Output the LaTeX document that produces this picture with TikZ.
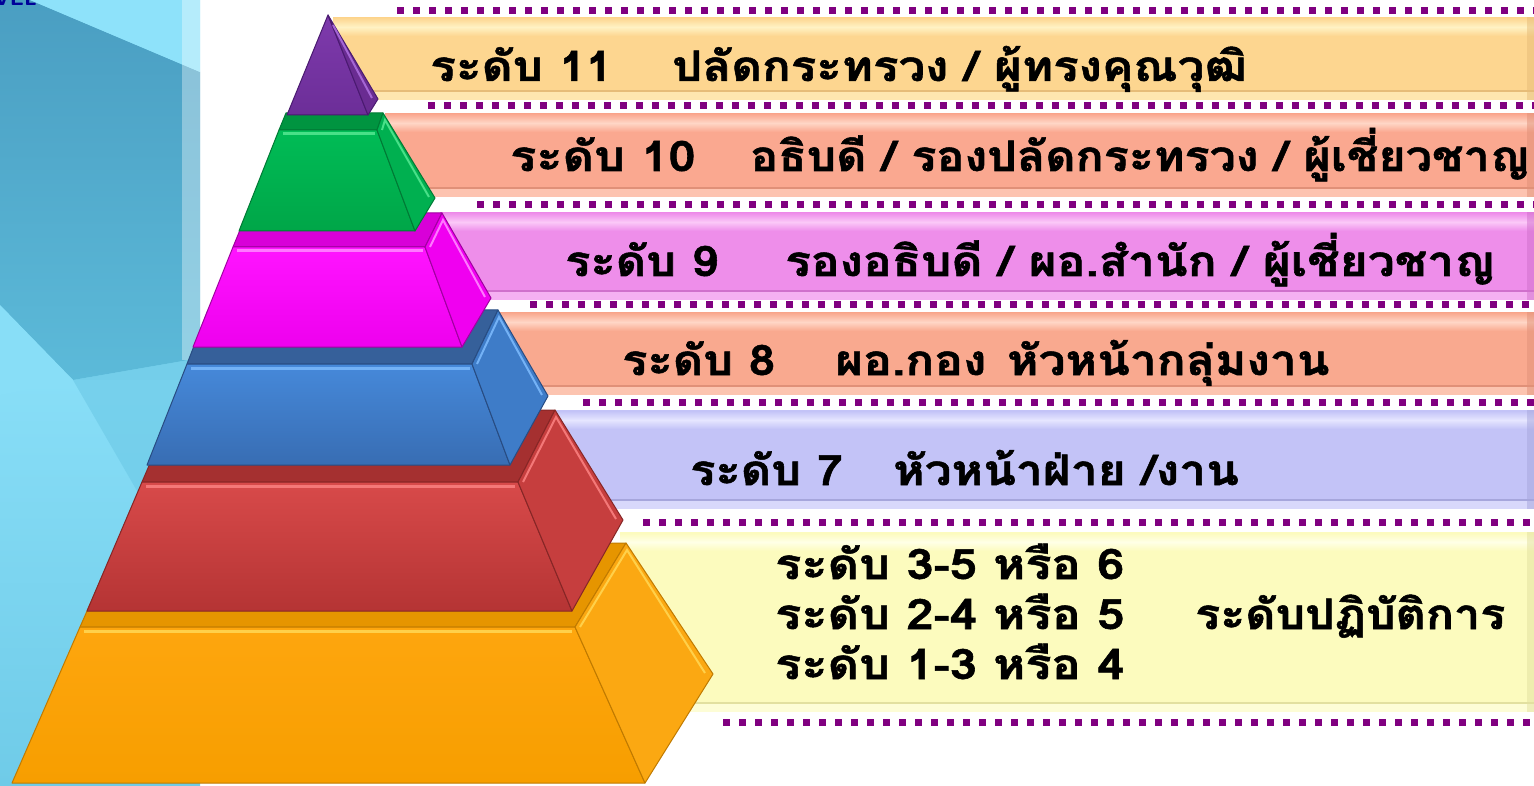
\documentclass[tikz,border=0pt]{standalone}
\usepackage{fontspec}
\usepackage{graphicx}
\newfontfamily\thaifont[Script=Thai,BoldFeatures={FakeBold=1.2}]{Loma}
\definecolor{bgLight}{HTML}{80D6F0}
\definecolor{bgTop}{HTML}{8EE2FA}
\definecolor{bgDarkT}{HTML}{4A9EC2}
\definecolor{bgDarkB}{HTML}{5CBAD9}
\definecolor{bgWedge}{HTML}{88DEF7}
\definecolor{bgMid}{HTML}{6FCBE8}
\definecolor{dotc}{HTML}{800080}
% bands
\definecolor{b1}{HTML}{FDD690}\definecolor{b1l}{HTML}{FFF2C4}\definecolor{b1d}{HTML}{E6BC78}
\definecolor{b2}{HTML}{FAA890}\definecolor{b2l}{HTML}{FFD6C6}\definecolor{b2d}{HTML}{E09078}
\definecolor{b3}{HTML}{EE8EEA}\definecolor{b3l}{HTML}{FBC8F8}\definecolor{b3d}{HTML}{D070CC}
\definecolor{b4}{HTML}{F9A98F}\definecolor{b4l}{HTML}{FFD6C6}\definecolor{b4d}{HTML}{E09078}
\definecolor{b5}{HTML}{C3C3F7}\definecolor{b5l}{HTML}{E6E6FF}\definecolor{b5d}{HTML}{A6A6DC}
\definecolor{b6}{HTML}{FCFBBE}\definecolor{b6l}{HTML}{FFFFE6}\definecolor{b6d}{HTML}{E2E0A0}
% tiers
\definecolor{oF}{HTML}{FEA60E}\definecolor{oF2}{HTML}{F79E00}\definecolor{oS}{HTML}{FBA812}\definecolor{oT}{HTML}{E69500}\definecolor{oD}{HTML}{C07A00}\definecolor{oH}{HTML}{FFD04A}
\definecolor{rF}{HTML}{D84A4A}\definecolor{rF2}{HTML}{B53434}\definecolor{rS}{HTML}{C63E3E}\definecolor{rT}{HTML}{A53030}\definecolor{rD}{HTML}{862626}\definecolor{rH}{HTML}{F47878}
\definecolor{uF}{HTML}{4689DA}\definecolor{uF2}{HTML}{386DB3}\definecolor{uS}{HTML}{3E7CC8}\definecolor{uT}{HTML}{36609A}\definecolor{uD}{HTML}{284C82}\definecolor{uH}{HTML}{74B2F6}
\definecolor{mF}{HTML}{FF14FF}\definecolor{mF2}{HTML}{EE00EE}\definecolor{mS}{HTML}{F000F0}\definecolor{mT}{HTML}{D800D8}\definecolor{mD}{HTML}{A000A0}\definecolor{mH}{HTML}{FF78FF}
\definecolor{gF}{HTML}{00BC56}\definecolor{gF2}{HTML}{00A648}\definecolor{gS}{HTML}{00B050}\definecolor{gT}{HTML}{009440}\definecolor{gD}{HTML}{007A35}\definecolor{gH}{HTML}{48E088}
\definecolor{pF}{HTML}{7E3AAC}\definecolor{pF2}{HTML}{6C2E98}\definecolor{pS}{HTML}{6A2C92}\definecolor{pD}{HTML}{4A1A70}\definecolor{pH}{HTML}{A466D4}
\newcommand{\mkband}[6]{%
  \fill[#4] (#1,#2) rectangle (1534,#3);
  \shade[top color=#4,bottom color=#4,middle color=#5] (#1,#2+1) rectangle (1534,#2+19);
  \fill[#5,opacity=.6] (#1,#3-8) rectangle (1534,#3);
  \draw[#6,line width=1.5pt] (#1,#3-9) -- (1534,#3-9);
  \fill[#6,opacity=.5] (1527,#2) rectangle (1534,#3);
}
\newcommand{\sx}[2][1.14]{\scalebox{#1}[1]{#2}}
\begin{document}
\begin{tikzpicture}[x=1pt,y=-1pt,
  dotrow/.style={draw=dotc,line width=7pt,dash pattern=on 7pt off 9pt},
  lv/.style={anchor=base west,inner sep=0pt,text=black,font=\thaifont\bfseries\fontsize{42}{46}\selectfont},
  face/.style={line width=1pt,line join=round}]
\useasboundingbox (0,0) rectangle (1534,786);
\fill[white] (0,0) rectangle (1534,786);
% ---- left background panel
\fill[bgLight] (0,0) rectangle (200,786);
\shade[top color=bgWedge,bottom color=bgMid] (0,380) rectangle (200,786);
\shade[top color=bgDarkT,bottom color=bgDarkB] (0,0) -- (30,0) -- (200,72) -- (200,358) -- (73,380) -- (0,305) -- cycle;
\fill[bgTop] (30,0) -- (200,0) -- (200,72) -- cycle;
\fill[bgWedge] (0,305) -- (73,380) -- (0,395) -- cycle;
\fill[bgMid,opacity=.7] (73,380) -- (200,358) -- (200,600) -- cycle;
\fill[white,opacity=.35] (182,0) rectangle (200,360);
\node[anchor=base east,inner sep=0pt,text=blue!60!black,font=\sffamily\bfseries\fontsize{22}{24}\selectfont] (lvl) at (37,6) {LEVEL};
% ---- bands
\mkband{333}{17}{100}{b1}{b1l}{b1d}
\mkband{385}{113}{197}{b2}{b2l}{b2d}
\mkband{440}{212}{300}{b3}{b3l}{b3d}
\mkband{495}{312}{395}{b4}{b4l}{b4d}
\mkband{553}{410}{509}{b5}{b5l}{b5d}
\mkband{620}{532}{712}{b6}{b6l}{b6d}
% ---- dotted separators
\draw[dotrow] (397,11) -- (1534,11);
\draw[dotrow] (428,106) -- (1534,106);
\draw[dotrow] (477,205) -- (1534,205);
\draw[dotrow] (530,305) -- (1534,305);
\draw[dotrow] (583,402) -- (1534,402);
\draw[dotrow] (643,522) -- (1534,522);
\draw[dotrow] (723,722) -- (1534,722);
% ---- pyramid: orange
\fill[face,oT,draw=oD] (117,543) -- (626,543) -- (575,627) -- (80,627) -- cycle;
\shade[top color=oF,bottom color=oF2] (80,627) -- (575,627) -- (645,783) -- (12,783) -- cycle;
\draw[face,oD] (80,627) -- (575,627) -- (645,783) -- (12,783) -- cycle;
\draw[oH,line width=3pt] (84,631) -- (572,631);
\fill[face,oS,draw=oD] (575,627) -- (626,543) -- (713,674) -- (645,783) -- cycle;
\draw[oH,line width=2pt] (580,627) -- (627,550) -- (705,673);
% red
\fill[face,rT,draw=rD] (173,410) -- (555,410) -- (518,482) -- (142,482) -- cycle;
\shade[top color=rF,bottom color=rF2] (142,482) -- (518,482) -- (572,611) -- (87,611) -- cycle;
\draw[face,rD] (142,482) -- (518,482) -- (572,611) -- (87,611) -- cycle;
\draw[rH,line width=3pt] (146,486) -- (515,486);
\fill[face,rS,draw=rD] (518,482) -- (555,410) -- (623,520) -- (572,611) -- cycle;
\draw[rH,line width=2pt] (523,482) -- (556,417) -- (616,519);
% blue
\fill[face,uT,draw=uD] (208,310) -- (498,310) -- (472,364) -- (187,364) -- cycle;
\shade[top color=uF,bottom color=uF2] (187,364) -- (472,364) -- (510,465) -- (147,465) -- cycle;
\draw[face,uD] (187,364) -- (472,364) -- (510,465) -- (147,465) -- cycle;
\draw[uH,line width=3pt] (191,368) -- (470,368);
\fill[face,uS,draw=uD] (472,364) -- (498,310) -- (548,396) -- (510,465) -- cycle;
\draw[uH,line width=2pt] (477,364) -- (499,317) -- (542,395);
% magenta
\fill[face,mT,draw=mD] (247,213) -- (442,213) -- (425,247) -- (233,247) -- cycle;
\shade[top color=mF,bottom color=mF2] (233,247) -- (425,247) -- (462,347) -- (193,347) -- cycle;
\draw[face,mD] (233,247) -- (425,247) -- (462,347) -- (193,347) -- cycle;
\draw[mH,line width=3pt] (237,251) -- (423,251);
\fill[face,mS,draw=mD] (425,247) -- (442,213) -- (491,298) -- (462,347) -- cycle;
\draw[mH,line width=2pt] (430,247) -- (443,220) -- (485,297);
% green
\fill[face,gT,draw=gD] (286,113) -- (383,113) -- (377,130) -- (279,130) -- cycle;
\shade[top color=gF,bottom color=gF2] (279,130) -- (377,130) -- (415,231) -- (239,231) -- cycle;
\draw[face,gD] (279,130) -- (377,130) -- (415,231) -- (239,231) -- cycle;
\draw[gH,line width=3pt] (283,134) -- (375,134);
\fill[face,gS,draw=gD] (377,130) -- (383,113) -- (435,198) -- (415,231) -- cycle;
\draw[gH,line width=2pt] (382,130) -- (385,120) -- (429,197);
% purple
\shade[top color=pF,bottom color=pF2] (328,15) -- (368,115) -- (287,115) -- cycle;
\draw[face,pD] (328,15) -- (368,115) -- (287,115) -- cycle;
\fill[face,pS,draw=pD] (328,15) -- (378,99) -- (368,115) -- cycle;
\draw[pH,line width=2pt] (333,25) -- (372,98);
% ---- texts
\node[lv] (l11) at (430,81) {\sx{ระดับ 11}};
\node[lv] (t11) at (672,81) {\sx[1.13]{ปลัดกระทรวง / ผู้ทรงคุณวุฒิ}};
\node[lv] (l10) at (510,171) {\sx[1.16]{ระดับ 10}};
\node[lv] (t10) at (750,171) {\sx[1.11]{อธิบดี / รองปลัดกระทรวง / ผู้เชี่ยวชาญ}};
\node[lv] (l9) at (565,276) {\sx[1.12]{ระดับ 9}};
\node[lv] (t9) at (785,276) {\sx[1.14]{รองอธิบดี / ผอ.สำนัก / ผู้เชี่ยวชาญ}};
\node[lv] (l8) at (622,375) {\sx[1.12]{ระดับ 8}};
\node[lv] (t8) at (835,375) {\sx[1.14]{ผอ.กอง\hspace{4pt} หัวหน้ากลุ่มงาน}};
\node[lv] (l7) at (690,485) {\sx[1.12]{ระดับ 7}};
\node[lv] (t7) at (893,485) {\sx[1.14]{หัวหน้าฝ่าย /งาน}};
\node[lv] (l6a) at (775,579) {\sx[1.16]{ระดับ 3-5 หรือ 6}};
\node[lv] (l6b) at (775,629) {\sx[1.16]{ระดับ 2-4 หรือ 5}};
\node[lv] (l6c) at (775,679) {\sx[1.16]{ระดับ 1-3 หรือ 4}};
\node[lv] (t6) at (1195,629) {\sx[1.11]{ระดับปฏิบัติการ}};
\end{tikzpicture}
\end{document}
